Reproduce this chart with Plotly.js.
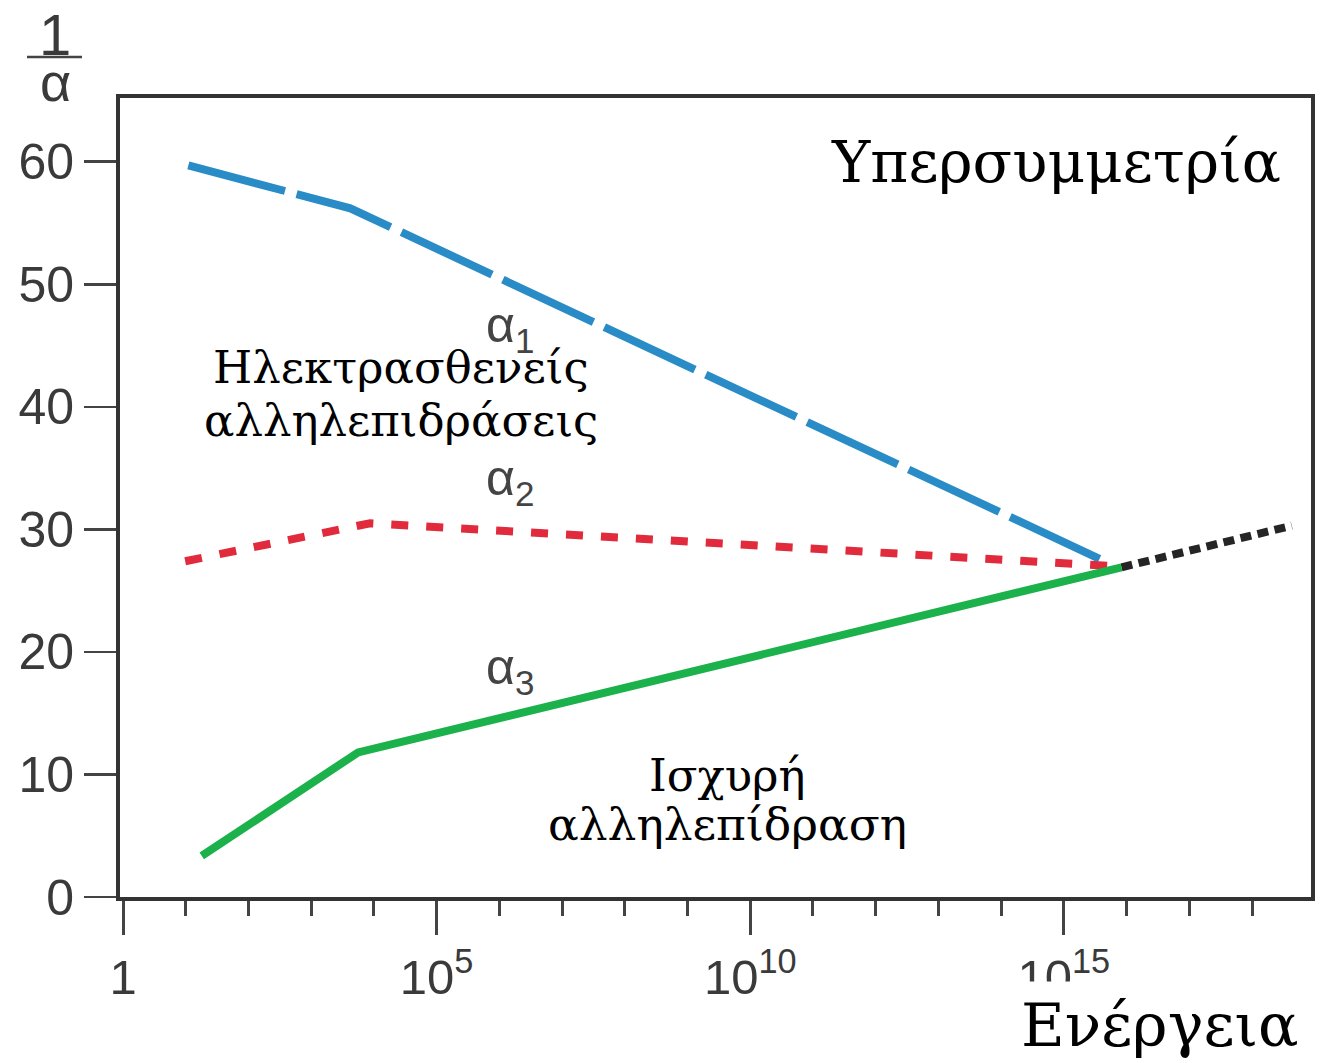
<!DOCTYPE html>
<html>
<head>
<meta charset="utf-8">
<script src="https://cdn.plot.ly/plotly-3.0.1.min.js"></script>
<style>html,body{margin:0;padding:0;background:#fff}#chart{width:1320px;height:1063px}</style>
</head>
<body>
<div id="chart"></div>
<script>
// Energy values (x) and 1/alpha values (y)
const a1Energy = [11, 4.2e3, 3.7e15];
const a1Inv = [59.7, 56.2, 27.6];
const a2Energy = [9.8, 8.7e3, 6.5e15];
const a2Inv = [27.4, 30.5, 27.0];
const a3Energy = [18, 5.6e3, 8.3e15];
const a3Inv = [3.35, 11.8, 26.9];
const susyEnergy = [8.3e15, 4.3e18];
const susyInv = [26.9, 30.3];

const xTickVals = [1, 1e5, 1e10, 1e15];
const xTickText = ['1', '10<sup>5</sup>', '10<sup>10</sup>', '10<sup>15</sup>'];
const xMinorVals = [1e0,1e1,1e2,1e3,1e4,1e5,1e6,1e7,1e8,1e9,1e10,1e11,1e12,1e13,1e14,1e15,1e16,1e17,1e18];
const yTickVals = [0, 10, 20, 30, 40, 50, 60];

const traces = [
  {x: a1Energy, y: a1Inv, mode: 'lines', line: {color: '#2a8cc6', width: 8, dash: '100px,12px'}, hoverinfo: 'skip'},
  {x: a2Energy, y: a2Inv, mode: 'lines', line: {color: '#e12a3b', width: 8, dash: '17px,18px'}, hoverinfo: 'skip'},
  {x: susyEnergy, y: susyInv, mode: 'lines', line: {color: '#252525', width: 8, dash: '11px,6.5px'}, hoverinfo: 'skip'},
  {x: a3Energy, y: a3Inv, mode: 'lines', line: {color: '#1bb14b', width: 8}, hoverinfo: 'skip'}
];

const serif = 'DejaVu Serif';
const sans = 'Liberation Sans, Arial, sans-serif';
function px(x){return (x-120)/1191;}
function py(y){return (897-y)/799;}

const layout = {
  width: 1320, height: 1063,
  margin: {l: 120, r: 9, t: 98, b: 166},
  paper_bgcolor: '#fff', plot_bgcolor: '#fff',
  showlegend: false,
  xaxis: {
    type: 'log', range: [-0.048, 18.94],
    showgrid: false, zeroline: false,
    showline: true, mirror: true, linecolor: '#333', linewidth: 4,
    tickmode: 'array', tickvals: xTickVals, ticktext: xTickText,
    ticks: 'outside', ticklen: 34, tickwidth: 3, tickcolor: '#444',
    tickfont: {family: sans, size: 49, color: '#3a3a3a'},
    minor: {tickmode: 'array', tickvals: xMinorVals, ticks: 'outside', ticklen: 15, tickwidth: 3, tickcolor: '#444', showgrid: false}
  },
  yaxis: {
    range: [0, 65.2],
    showgrid: false, zeroline: false,
    showline: true, mirror: true, linecolor: '#333', linewidth: 4,
    tickmode: 'array', tickvals: yTickVals,
    ticks: 'outside', ticklen: 32, tickwidth: 2.5, tickcolor: '#444',
    tickfont: {family: sans, size: 50, color: '#3a3a3a'}
  },
  shapes: [
    {type: 'line', xref: 'paper', yref: 'paper', x0: px(27), x1: px(82), y0: py(57), y1: py(57), line: {color: '#444', width: 2.5}}
  ],
  annotations: [
    {text: '1', xref: 'paper', yref: 'paper', x: px(55), y: py(34), xanchor: 'center', yanchor: 'middle', showarrow: false, font: {family: sans, size: 58, color: '#3a3a3a'}},
    {text: 'α', xref: 'paper', yref: 'paper', x: px(55), y: py(82), xanchor: 'center', yanchor: 'middle', showarrow: false, font: {family: sans, size: 54, color: '#3a3a3a'}},
    {text: 'Υπερσυμμετρία', xref: 'paper', yref: 'paper', x: px(1056), y: py(162), xanchor: 'center', yanchor: 'middle', showarrow: false, font: {family: serif, size: 58, color: '#000'}},
    {text: 'Ηλεκτρασθενείς', xref: 'paper', yref: 'paper', x: px(401), y: py(368), xanchor: 'center', yanchor: 'middle', showarrow: false, font: {family: serif, size: 45, color: '#000'}},
    {text: 'αλληλεπιδράσεις', xref: 'paper', yref: 'paper', x: px(401), y: py(420), xanchor: 'center', yanchor: 'middle', showarrow: false, font: {family: serif, size: 45, color: '#000'}},
    {text: 'Ισχυρή', xref: 'paper', yref: 'paper', x: px(727), y: py(775), xanchor: 'center', yanchor: 'middle', showarrow: false, font: {family: serif, size: 45, color: '#000'}},
    {text: 'αλληλεπίδραση', xref: 'paper', yref: 'paper', x: px(727), y: py(824), xanchor: 'center', yanchor: 'middle', showarrow: false, font: {family: serif, size: 45.5, color: '#000'}},
    {text: 'α<sub>1</sub>', xref: 'paper', yref: 'paper', x: px(510), y: py(328), xanchor: 'center', yanchor: 'middle', showarrow: false, font: {family: sans, size: 50, color: '#444'}},
    {text: 'α<sub>2</sub>', xref: 'paper', yref: 'paper', x: px(510), y: py(481), xanchor: 'center', yanchor: 'middle', showarrow: false, font: {family: sans, size: 50, color: '#444'}},
    {text: 'α<sub>3</sub>', xref: 'paper', yref: 'paper', x: px(510), y: py(670), xanchor: 'center', yanchor: 'middle', showarrow: false, font: {family: sans, size: 50, color: '#444'}},
    {text: 'Ενέργεια', xref: 'paper', yref: 'paper', x: px(1160), y: py(1025), xanchor: 'center', yanchor: 'middle', showarrow: false, bgcolor: '#fff', borderpad: 8, font: {family: serif, size: 60, color: '#000'}}
  ]
};

Plotly.newPlot('chart', traces, layout, {staticPlot: true, displayModeBar: false});
</script>
</body>
</html>
